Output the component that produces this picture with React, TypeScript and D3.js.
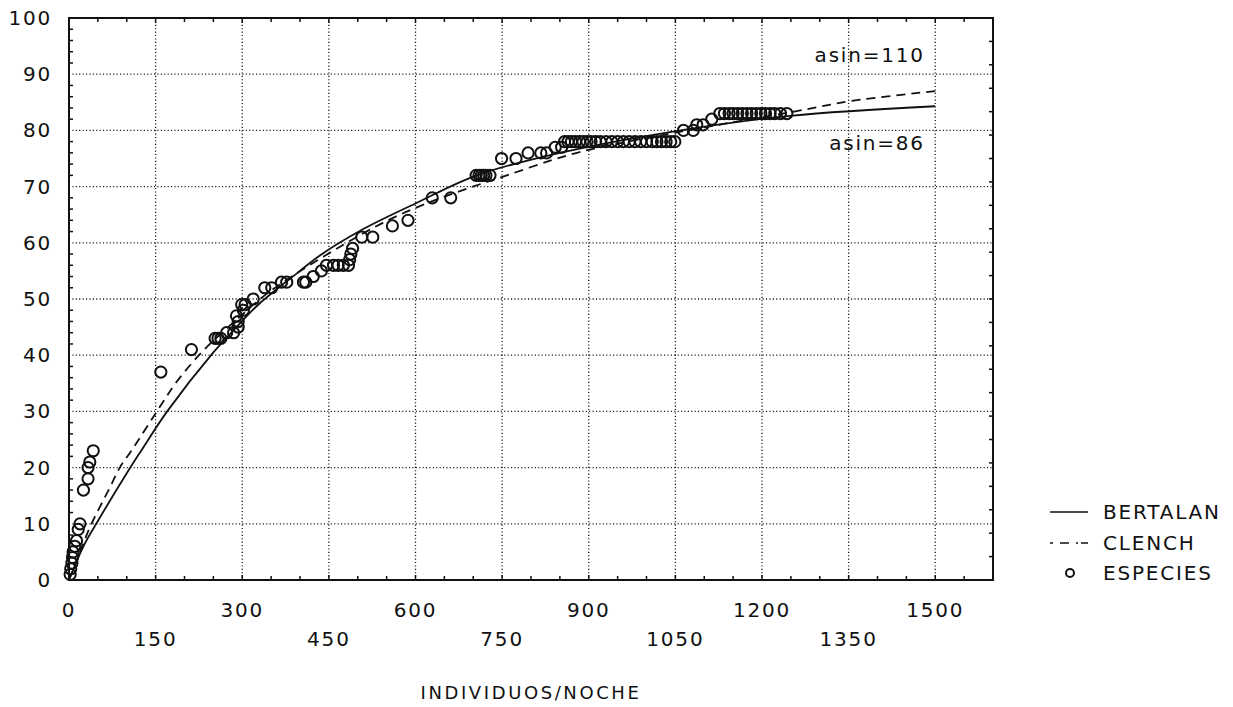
import React from 'react';
import * as d3 from 'd3';

// tick labels
const xLabelsRow1 = [0, 300, 600, 900, 1200, 1500];
const xLabelsRow2 = [150, 450, 750, 1050, 1350];
const yLabels = [0, 10, 20, 30, 40, 50, 60, 70, 80, 90, 100];

// species observed (ESPECIES): [individuos, especies]
const especies: [number, number][] = [
  [2, 1], [3, 2], [5, 3], [6, 4], [7, 5], [10, 6], [13, 7], [16, 9], [19, 10],
  [25, 16], [33, 18], [33, 20], [36, 21], [42, 23],
  [159, 37], [212, 41],
  [253, 43], [258, 43], [263, 43], [273, 44], [285, 44], [293, 45], [293, 46], [290, 47],
  [302, 48], [299, 49], [305, 49], [319, 50],
  [339, 52], [351, 52], [368, 53], [377, 53], [406, 53], [410, 53], [423, 54], [437, 55],
  [446, 56], [458, 56], [466, 56], [475, 56], [484, 56], [486, 57], [488, 58], [491, 59],
  [507, 61], [526, 61], [560, 63], [587, 64], [629, 68], [661, 68],
  [705, 72], [710, 72], [714, 72], [718, 72], [722, 72], [729, 72],
  [749, 75], [774, 75], [795, 76], [817, 76], [827, 76], [842, 77], [853, 77],
  [858, 78], [864, 78], [870, 78], [877, 78], [884, 78], [890, 78], [897, 78], [904, 78],
  [912, 78], [920, 78], [930, 78], [940, 78], [950, 78], [960, 78], [970, 78], [980, 78],
  [990, 78], [1000, 78], [1010, 78], [1018, 78], [1026, 78], [1034, 78], [1042, 78], [1049, 78],
  [1064, 80], [1081, 80], [1087, 81], [1098, 81], [1113, 82],
  [1127, 83], [1135, 83], [1143, 83], [1150, 83], [1158, 83], [1166, 83], [1174, 83],
  [1182, 83], [1190, 83], [1198, 83], [1206, 83], [1214, 83], [1222, 83], [1232, 83], [1243, 83],
];

// fitted curves
const bertalan: [number, number][] = [
  [0, 0], [25, 6], [50, 10.5], [100, 19], [125, 23], [170, 30], [250, 40.5], [290, 45],
  [330, 49.2], [400, 55], [435, 57.8], [505, 62.2], [600, 67], [706, 72], [850, 76],
  [1046, 79.8], [1249, 82.6], [1500, 84.3],
];
const clench: [number, number][] = [
  [0, 0], [20, 5.3], [39, 10], [71, 16.5], [88, 20], [108, 23], [163, 31.7], [183, 34.8],
  [212, 38.5], [241, 41.7], [290, 46.3], [350, 51.5], [533, 63], [619, 67], [694, 69.8],
  [758, 72], [839, 74.8], [902, 76.6], [1050, 79.6], [1274, 83.7], [1352, 85.2], [1500, 87],
];

const asymptotes = [
  { text: 'asin=110', value: 93.5 },
  { text: 'asin=86', value: 77.7 },
];
const legendItems = ['BERTALAN', 'CLENCH', 'ESPECIES'];

const font = '"DejaVu Sans", sans-serif';

export default function App() {
  const left = 69, right = 993, top = 18, bottom = 580;
  const x = d3.scaleLinear().domain([0, 1600]).range([left, right]);
  const y = d3.scaleLinear().domain([0, 100]).range([bottom, top]);
  const yRight = d3.scaleLinear().domain([0, 24]).range([bottom, top]);

  const line = d3.line<[number, number]>()
    .x(d => x(d[0]))
    .y(d => y(d[1]))
    .curve(d3.curveCatmullRom);

  const gridX = d3.range(150, 1501, 150);
  const gridY = d3.range(10, 91, 10);
  const minorX = d3.range(50, 1600, 50).filter(v => v % 150 !== 0);
  const minorY = d3.range(2, 100, 2).filter(v => v % 10 !== 0);
  const rightTicks = d3.range(1, 24);

  const txt = { fontFamily: font, fontSize: 20, letterSpacing: 1.8, fill: '#111' };

  return (
    <svg width={1233} height={707} style={{ position: 'absolute', left: 0, top: 0, background: '#fff' }}>
      {/* dotted grid */}
      <g stroke="#111" strokeWidth={1.3} strokeDasharray="1.1,2.3">
        {gridX.map(v => <line key={'gx' + v} x1={x(v)} x2={x(v)} y1={top} y2={bottom} />)}
        {gridY.map(v => <line key={'gy' + v} x1={left} x2={right} y1={y(v)} y2={y(v)} />)}
      </g>

      {/* ticks */}
      <g stroke="#111" strokeWidth={1.5}>
        {minorX.map(v => (
          <g key={'tx' + v}>
            <line x1={x(v)} x2={x(v)} y1={bottom} y2={bottom - 4} />
            <line x1={x(v)} x2={x(v)} y1={top} y2={top + 4} />
          </g>
        ))}
        {gridX.map(v => (
          <g key={'tgx' + v}>
            <line x1={x(v)} x2={x(v)} y1={bottom} y2={bottom - 5} />
            <line x1={x(v)} x2={x(v)} y1={top} y2={top + 5} />
          </g>
        ))}
        {minorY.map(v => <line key={'ty' + v} x1={left} x2={left + 4} y1={y(v)} y2={y(v)} />)}
        {rightTicks.map(v => <line key={'tr' + v} x1={right} x2={right - 4} y1={yRight(v)} y2={yRight(v)} />)}
      </g>

      {/* curves */}
      <path d={line(bertalan) || ''} fill="none" stroke="#111" strokeWidth={1.8} />
      <path d={line(clench) || ''} fill="none" stroke="#111" strokeWidth={1.8} strokeDasharray="9,6" />

      {/* observed species */}
      <g fill="none" stroke="#111" strokeWidth={2}>
        {especies.map((d, i) => <circle key={i} cx={x(d[0])} cy={y(d[1])} r={5.6} />)}
      </g>

      {/* frame */}
      <rect x={left} y={top} width={right - left} height={bottom - top} fill="none" stroke="#111" strokeWidth={2} />

      {/* axis labels */}
      {yLabels.map(v => (
        <text key={'yl' + v} x={left - 17} y={y(v)} textAnchor="end" dominantBaseline="central" {...txt}>{v}</text>
      ))}
      {xLabelsRow1.map(v => (
        <text key={'xl1' + v} x={x(v)} y={610} textAnchor="middle" dominantBaseline="central" {...txt}>{v}</text>
      ))}
      {xLabelsRow2.map(v => (
        <text key={'xl2' + v} x={x(v)} y={639} textAnchor="middle" dominantBaseline="central" {...txt}>{v}</text>
      ))}
      <text x={(left + right) / 2} y={692} textAnchor="middle" dominantBaseline="central" {...txt} fontSize={18} letterSpacing={2.6}>
        INDIVIDUOS/NOCHE
      </text>

      {/* asymptote notes */}
      {asymptotes.map(a => (
        <text key={a.text} x={x(1482)} y={y(a.value)} textAnchor="end" dominantBaseline="central" {...txt}>{a.text}</text>
      ))}

      {/* legend */}
      <g>
        <line x1={1050} x2={1088} y1={512} y2={512} stroke="#111" strokeWidth={1.7} />
        <line x1={1050} x2={1090} y1={543} y2={543} stroke="#111" strokeWidth={1.7} strokeDasharray="3,7,9,7,2" />
        <circle cx={1070} cy={573} r={4} fill="none" stroke="#111" strokeWidth={2} />
        {legendItems.map((t, i) => (
          <text key={t} x={1103} y={512 + i * 30.5} dominantBaseline="central" {...txt}>{t}</text>
        ))}
      </g>
    </svg>
  );
}
